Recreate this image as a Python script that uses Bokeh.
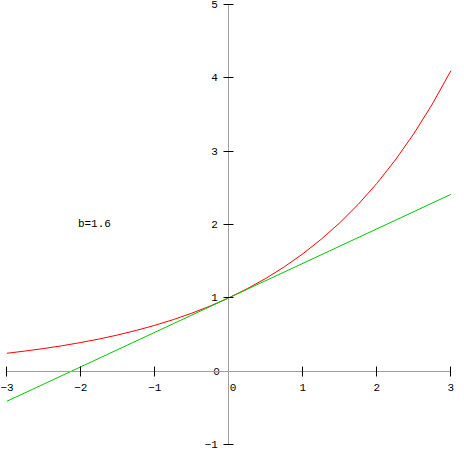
from bokeh.plotting import figure
from bokeh.models import Range1d, LinearAxis, FixedTicker
from bokeh.core.properties import value
from bokeh.embed import file_html
from bokeh.resources import INLINE

# curve y = b^x, b = 1.6
curve_x = [-3, -2.75, -2.5, -2.25, -2, -1.75, -1.5, -1.25, -1, -0.75, -0.5, -0.25,
           0, 0.25, 0.5, 0.75, 1, 1.25, 1.5, 1.75, 2, 2.25, 2.5, 2.75, 3]
curve_y = [0.244, 0.275, 0.309, 0.347, 0.391, 0.439, 0.494, 0.556, 0.625, 0.703, 0.791, 0.889,
           1.0, 1.125, 1.265, 1.423, 1.6, 1.8, 2.024, 2.276, 2.56, 2.879, 3.238, 3.642, 4.096]
# tangent line at x = 0
tangent_x = [-3, 3]
tangent_y = [-0.41, 2.41]

x_ticks = [-3, -2, -1, 1, 2, 3]
y_ticks = [-1, 1, 2, 3, 4, 5]
origin_labels = ["0", "0"]
annotation = "b=1.6"
ann_x = [-2.04]
ann_y = [2.0]

FONT = "Liberation Mono"

p = figure(width=456, height=451, output_backend="svg", toolbar_location=None,
           x_range=Range1d(-3.086, 3.076), y_range=Range1d(-1.095, 5.053),
           x_axis_location=None, y_axis_location=None, min_border=0)
p.outline_line_color = None
p.xgrid.visible = False
p.ygrid.visible = False
p.background_fill_color = "white"
p.border_fill_color = "white"

xa = LinearAxis(fixed_location=0, ticker=FixedTicker(ticks=x_ticks), bounds=(-3, 3))
ya = LinearAxis(fixed_location=0, ticker=FixedTicker(ticks=y_ticks), bounds=(-1, 5))
for ax in (xa, ya):
    ax.axis_line_color = "#a0a0a0"
    ax.axis_line_width = 1
    ax.major_tick_line_color = "black"
    ax.major_tick_in = 5
    ax.major_tick_out = 5
    ax.minor_tick_line_color = None
    ax.major_label_text_font = FONT
    ax.major_label_text_font_size = "11px"
    ax.major_label_text_color = "black"
xa.major_label_standoff = 8
ya.major_label_standoff = 6
p.add_layout(xa, "below")
p.add_layout(ya, "left")

p.line(curve_x, curve_y, line_color="#ff0000", line_width=1)
p.line(tangent_x, tangent_y, line_color="#00c800", line_width=1)

p.text(x=ann_x, y=ann_y, text=[annotation], text_font=value(FONT), text_font_size="11px",
       text_color="black", text_align="left", text_baseline="middle")
# the two "0" labels at the origin
p.text(x=[0], y=[0], text=[origin_labels[0]], text_font=value(FONT), text_font_size="11px",
       text_color="black", text_align="right", text_baseline="middle", x_offset=-9)
p.text(x=[0], y=[0], text=[origin_labels[1]], text_font=value(FONT), text_font_size="11px",
       text_color="black", text_align="left", text_baseline="top", x_offset=1, y_offset=13)

open("out.html", "w").write(file_html(p, INLINE))
